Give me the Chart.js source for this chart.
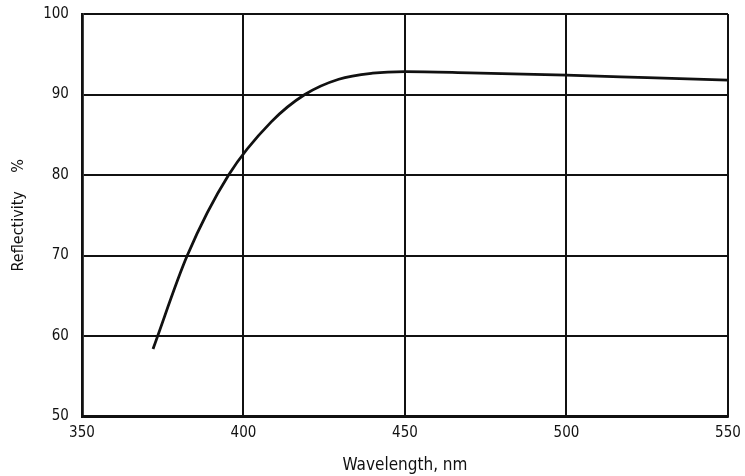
<!DOCTYPE html>
<html>
<head>
<meta charset="utf-8">
<script src="https://cdn.jsdelivr.net/npm/chart.js@4/dist/chart.umd.min.js"></script>
<style>
  html, body { margin: 0; padding: 0; background: #fff; }
  #wrap { width: 745px; height: 476px; }
</style>
</head>
<body>
<div id="wrap"><canvas id="refl" width="745" height="476"></canvas></div>
<script>
// wavelength (nm) and reflectivity (%)
const wavelength = [372, 382.6, 395.4, 408.6, 419, 429.5, 440, 450, 470, 500, 525, 550];
const reflectivity = [58.4, 70, 80, 86.6, 90, 91.9, 92.65, 92.85, 92.7, 92.4, 92.1, 91.8];
const xTicks = [350, 400, 450, 500, 550];
const yTicks = [50, 60, 70, 80, 90, 100];

const fontFam = '"DejaVu Sans Condensed", "Liberation Sans Narrow", "Liberation Sans", Arial, sans-serif';

new Chart(document.getElementById('refl'), {
  type: 'line',
  data: {
    datasets: [{
      data: wavelength.map((w, i) => ({ x: w, y: reflectivity[i] })),
      borderColor: '#111',
      borderWidth: 2.8,
      pointRadius: 0,
      cubicInterpolationMode: 'monotone',
      fill: false
    }]
  },
  options: {
    responsive: false,
    animation: false,
    layout: { padding: { left: 9, right: 0, top: 14, bottom: 0 } },
    plugins: { legend: { display: false }, tooltip: { enabled: false } },
    scales: {
      x: {
        type: 'linear',
        min: 350, max: 550,
        afterBuildTicks: (ax) => { ax.ticks = xTicks.map(v => ({ value: v })); },
        afterFit: (s) => { s.paddingLeft = 0; s.paddingRight = 17; },
        grid: { color: '#111', lineWidth: 2, drawTicks: false },
        border: { color: '#111', width: 2.8 },
        ticks: { color: '#111', font: { family: fontFam, size: 15 }, padding: 8 },
        title: { display: true, text: 'Wavelength, nm', color: '#111',
                 font: { family: fontFam, size: 17 }, padding: { top: 5, bottom: 0 } }
      },
      y: {
        min: 50, max: 100,
        afterBuildTicks: (ax) => { ax.ticks = yTicks.map(v => ({ value: v })); },
        afterFit: (s) => { s.paddingTop = 0; s.paddingBottom = 0; },
        grid: { color: '#111', lineWidth: 2, drawTicks: false },
        border: { color: '#111', width: 2.8 },
        ticks: { color: '#111', font: { family: fontFam, size: 15 }, padding: 13 },
        title: { display: true, text: 'Reflectivity    %', color: '#111',
                 font: { family: fontFam, size: 16 }, padding: { top: 0, bottom: 2 } }
      }
    }
  }
});
</script>
</body>
</html>
